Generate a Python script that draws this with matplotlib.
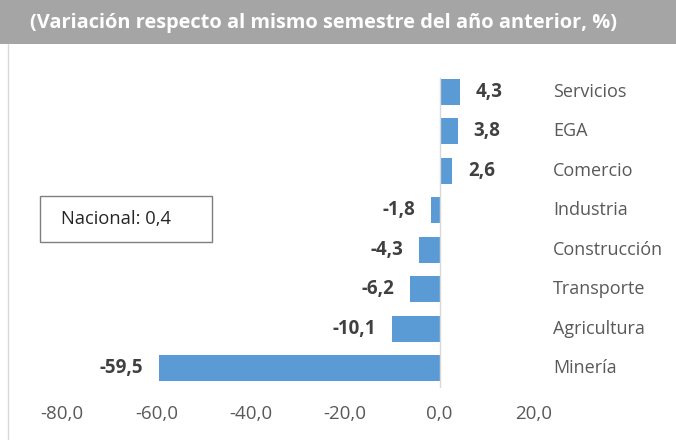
import matplotlib.pyplot as plt
from matplotlib.patches import Rectangle

# data (bottom to top)
sectores = ["Minería", "Agricultura", "Transporte", "Construcción",
            "Industria", "Comercio", "EGA", "Servicios"]
variacion = [-59.5, -10.1, -6.2, -4.3, -1.8, 2.6, 3.8, 4.3]
xticks = [-80, -60, -40, -20, 0, 20]
titulo = "(Variación respecto al mismo semestre del año anterior, %)"
nacional = "Nacional: 0,4"

plt.rcParams['font.family'] = ['Open Sans', 'DejaVu Sans']

W, H = 676, 440
fig = plt.figure(figsize=(W / 100, H / 100), dpi=100)

# header band and frame
fig.patches.append(Rectangle((0, 1 - 44 / H), 1, 44 / H, transform=fig.transFigure,
                             facecolor="#A5A5A5", edgecolor="none"))
fig.lines.append(plt.Line2D([8 / W, 8 / W], [0, 1 - 44 / H], transform=fig.transFigure,
                            color="#D9D9D9", lw=1))
fig.text(30 / W, 1 - 23 / H, titulo, color="white", fontsize=14.4, fontweight="bold",
         va="center", ha="left")

ax = fig.add_axes([62 / W, 1 - 388 / H, (534 - 62) / W, (388 - 72) / H])
y = list(range(len(sectores)))
ax.barh(y, variacion, height=0.66, color="#5B9BD5")
ax.set_xlim(-80, 20)
ax.set_ylim(-0.5, len(sectores) - 0.5)
ax.axvline(0, color="#D9D9D9", lw=1, ymin=0.0, ymax=0.98)

for s in ax.spines.values():
    s.set_visible(False)
ax.set_yticks([])
ax.set_xticks(xticks)
ax.set_xticklabels([f"{v:.1f}".replace(".", ",") for v in xticks], color="#595959",
                   fontsize=13.5)
ax.tick_params(axis="x", length=0, pad=12)

for i, (name, v) in enumerate(zip(sectores, variacion)):
    txt = f"{v:.1f}".replace(".", ",")
    ha = "left" if v >= 0 else "right"
    off = 11.5 if v >= 0 else -11.5
    ax.annotate(txt, (v, i), xytext=(off, 0), textcoords="offset points",
                ha=ha, va="center", fontsize=13.5, fontweight="bold", color="#404040")
    ax.annotate(name, (1, i), xycoords=("axes fraction", "data"), xytext=(19 * 0.72, 0),
                textcoords="offset points", ha="left", va="center", fontsize=13,
                color="#595959")

# national box
fig.patches.append(Rectangle((40 / W, 1 - 242 / H), 172 / W, 46 / H, transform=fig.transFigure,
                             facecolor="white", edgecolor="#7F7F7F", lw=1))
fig.text(61 / W, 1 - 219 / H, nacional, fontsize=13.2, color="#262626", va="center", ha="left")

fig.savefig("out.png", dpi=100)
